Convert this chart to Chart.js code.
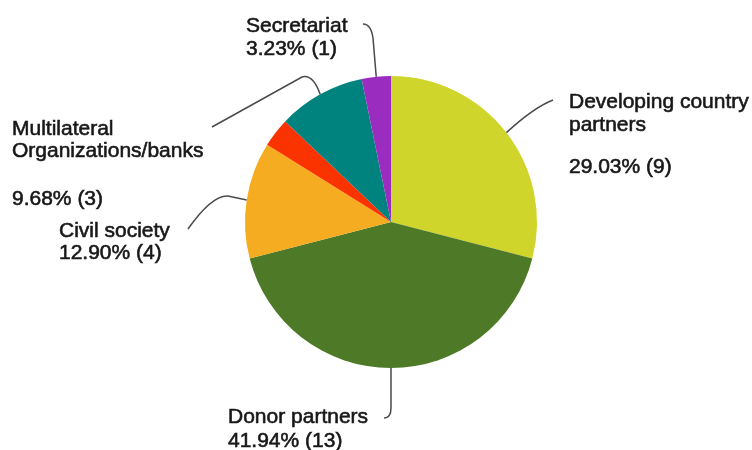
<!DOCTYPE html>
<html>
<head>
<meta charset="utf-8">
<script src="https://cdn.jsdelivr.net/npm/chart.js@4"></script>
<style>
  html, body { margin: 0; padding: 0; background: #fff; }
  #wrap { width: 752px; height: 450px; }
</style>
</head>
<body>
<div id="wrap"><canvas id="pieChart" width="752" height="450"></canvas></div>
<script>
// data
const categories = ['Developing country partners', 'Donor partners', 'Civil society', 'Other', 'Multilateral Organizations/banks', 'Secretariat'];
const counts = [9, 13, 4, 1, 3, 1];
const sliceColors = ['#cfd52b', '#4e7a28', '#f6ac21', '#fb3300', '#00837f', '#9a2cc0'];

// label lines as drawn (null = no label in the original)
const labelLines = [
  ['Developing country', 'partners', null, 'PCT'],
  ['Donor partners', 'PCT'],
  ['Civil society', 'PCT'],
  null,
  ['Multilateral', 'Organizations/banks', null, 'PCT'],
  ['Secretariat', 'PCT']
];

// where the text and leader lines sit
const labelLayout = [
  { x: 569, base: [108, 131, 152, 173], path: [['q', 533, 108, 553, 100]] },
  { x: 228, base: [423, 447], path: [['l', 391, 408], ['q', 391, 418, 384, 418]] },
  { x: 59, base: [237, 259], path: [['l', 228, 196], ['q', 212, 195, 188, 229]] },
  null,
  { x: 12, base: [134.5, 157, 181, 205], path: [['q', 313, 74, 302, 77], ['l', 212, 127]] },
  { x: 246, base: [31.5, 54.5], path: [['l', 373, 38], ['q', 371, 24, 363, 24]] }
];

const total = counts.reduce((a, b) => a + b, 0);

const calloutPlugin = {
  id: 'callouts',
  afterDatasetsDraw(chart) {
    const ctx = chart.ctx;
    const meta = chart.getDatasetMeta(0);
    ctx.save();
    meta.data.forEach((arc, i) => {
      const lay = labelLayout[i];
      if (!lay || !labelLines[i]) return;
      const mid = (arc.startAngle + arc.endAngle) / 2;
      const sx = arc.x + Math.cos(mid) * arc.outerRadius;
      const sy = arc.y + Math.sin(mid) * arc.outerRadius;

      ctx.beginPath();
      ctx.strokeStyle = '#4a4a4a';
      ctx.lineWidth = 1.5;
      ctx.moveTo(sx, sy);
      lay.path.forEach(p => {
        if (p[0] === 'l') ctx.lineTo(p[1], p[2]);
        else ctx.quadraticCurveTo(p[1], p[2], p[3], p[4]);
      });
      ctx.stroke();

      const pct = (counts[i] / total * 100).toFixed(2) + '% (' + counts[i] + ')';
      ctx.fillStyle = '#181818';
      ctx.strokeStyle = '#181818';
      ctx.lineWidth = 0.6;
      ctx.font = '21px "Liberation Sans", Arial, sans-serif';
      ctx.textAlign = 'left';
      ctx.textBaseline = 'alphabetic';
      labelLines[i].forEach((t, j) => {
        if (t === null) return;
        const s = t === 'PCT' ? pct : t;
        ctx.fillText(s, lay.x, lay.base[j]);
        ctx.strokeText(s, lay.x, lay.base[j]);
      });
    });
    ctx.restore();
  }
};

new Chart(document.getElementById('pieChart'), {
  type: 'pie',
  data: {
    labels: categories,
    datasets: [{
      data: counts,
      backgroundColor: sliceColors,
      borderWidth: 0
    }]
  },
  options: {
    responsive: false,
    animation: false,
    layout: { padding: { top: 76, bottom: 82, left: 245, right: 215 } },
    plugins: {
      legend: { display: false },
      tooltip: { enabled: false }
    }
  },
  plugins: [calloutPlugin]
});
</script>
</body>
</html>
